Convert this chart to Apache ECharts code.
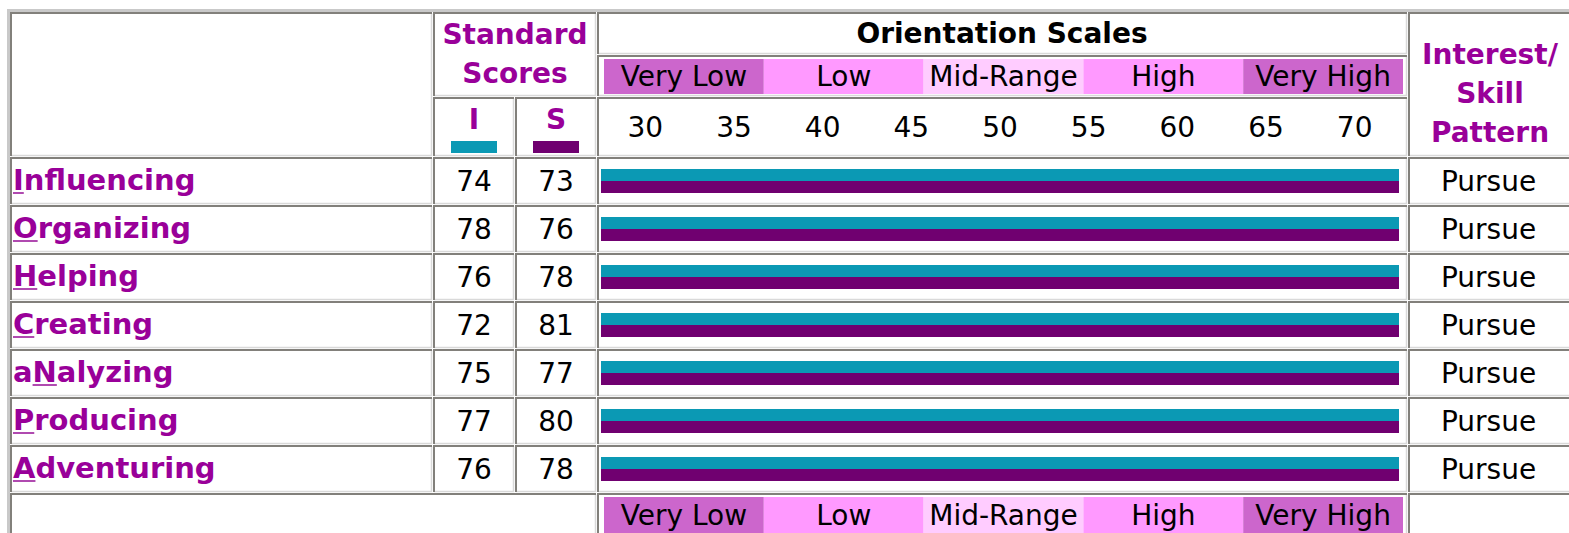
<!DOCTYPE html>
<html><head><meta charset="utf-8">
<script src="https://cdn.jsdelivr.net/npm/echarts@6/dist/echarts.min.js"></script>
<style>html,body{margin:0;padding:0;background:#fff;overflow:hidden}#c{width:1569px;height:533px}</style>
</head><body><div id="c"></div>
<script>
// ---------- data ----------
const scales = ['Influencing','Organizing','Helping','Creating','aNalyzing','Producing','Adventuring'];
const keyLetterIndex = [0,0,0,0,1,0,0];
const interestScores = [74,78,76,72,75,77,76];
const skillScores = [73,76,78,81,77,80,78];
const patterns = ['Pursue','Pursue','Pursue','Pursue','Pursue','Pursue','Pursue'];
const bandNames = ['Very Low','Low','Mid-Range','High','Very High'];
const tickLabels = ['30','35','40','45','50','55','60','65','70'];
const scoreColumns = ['I','S'];
const scaleMin = 27, scaleMax = 72;

// ---------- styles ----------
const FONT = 'Verdana, "DejaVu Sans", sans-serif';
const PURPLE = '#990099';
const TEAL = '#0b99b4';
const PLUM = '#700070';
const bandColors = ['#cc66cc','#ff99ff','#ffccff','#ff99ff','#cc66cc'];
const FS = 28;
const LFS = 29;

const measureCtx = document.createElement('canvas').getContext('2d');
function textWidth(t, weight, size){ measureCtx.font = weight + ' ' + size + 'px ' + FONT; return measureCtx.measureText(t).width; }

// ---------- table frame (layout) ----------
const cells = [
  [10,12,433,157],[433,12,597,97],[597,12,1408,55],[597,55,1408,97],[1408,12,1600,157],
  [433,97,515,157],[515,97,597,157],[597,97,1408,157]
];
const colX = [10,433,515,597,1408,1600];
for (let r = 0; r < scales.length; r++) {
  const y0 = 157 + 48*r;
  for (let c = 0; c < colX.length-1; c++) cells.push([colX[c], y0, colX[c+1], y0+48]);
}
cells.push([10,493,597,560],[597,493,1408,560],[1408,493,1600,560]);

const graphics = [];
graphics.push({type:'polyline', silent:true, shape:{points:[[8.5,560],[8.5,10.5],[1600,10.5]]}, style:{stroke:'#c9c9c9', lineWidth:3, fill:null}});
cells.forEach(([x0,y0,x1,y1]) => {
  graphics.push({type:'polyline', silent:true, shape:{points:[[x1-1.5,y0+1],[x1-1.5,y1-1.5],[x0+1,y1-1.5]]}, style:{stroke:'#d9d9d9', lineWidth:1.5, fill:null}});
  graphics.push({type:'polyline', silent:true, shape:{points:[[x0+1,y1-1],[x0+1,y0+1],[x1-1,y0+1]]}, style:{stroke:'#82807b', lineWidth:2, fill:null}});
});
function htext(t, x, y, color){
  return {type:'text', silent:true, x:x, y:y, style:{text:t, fill:color, fontSize:FS, fontWeight:'bold', fontFamily:FONT, align:'center', verticalAlign:'middle'}};
}
graphics.push(htext('Standard', 515, 34, PURPLE));
graphics.push(htext('Scores', 515, 73, PURPLE));
graphics.push(htext('Orientation Scales', 1002, 33, '#000'));
graphics.push(htext('Interest/', 1490, 54, PURPLE));
graphics.push(htext('Skill', 1490, 93, PURPLE));
graphics.push(htext('Pattern', 1490, 132, PURPLE));
graphics.push({type:'rect', silent:true, shape:{x:451, y:141, width:46, height:12}, style:{fill:TEAL}});
graphics.push({type:'rect', silent:true, shape:{x:533, y:141, width:46, height:12}, style:{fill:PLUM}});

// ---------- chart ----------
const chart = echarts.init(document.getElementById('c'), null, {renderer:'svg'});
const rowGrid = {top:157, height:336};
const hiddenCat = (gi, data) => ({type:'category', gridIndex:gi, data:data, show:false});
const rowAxis = gi => ({type:'category', gridIndex:gi, data:scales, inverse:true, show:false});

function textRenderer(getText, align, color, weight){
  return function(params, api){
    const p = api.coord([api.value(0), api.value(1)]);
    return {type:'text', x:p[0], y:p[1], style:{text:getText(params.dataIndex, api), fill:color, fontSize:FS, fontWeight:weight, fontFamily:FONT, align:align, verticalAlign:'middle'}};
  };
}

const option = {
  animation:false,
  backgroundColor:'#fff',
  textStyle:{fontFamily:FONT},
  graphic: graphics,
  grid:[
    Object.assign({left:601, width:798}, rowGrid),
    Object.assign({left:433, width:164}, rowGrid),
    Object.assign({left:10, width:423}, rowGrid),
    Object.assign({left:1408, width:162}, rowGrid),
    {left:604, width:799, top:59, height:35},
    {left:604, width:799, top:497, height:36}
  ],
  xAxis:[
    {type:'value', gridIndex:0, min:scaleMin, max:scaleMax, show:false, splitLine:{show:false}},
    {type:'category', gridIndex:0, data:tickLabels, position:'top',
     axisLine:{show:false}, axisTick:{show:false},
     axisLabel:{fontSize:FS, color:'#000', margin:16, fontFamily:FONT}},
    {type:'category', gridIndex:1, data:scoreColumns, position:'top',
     axisLine:{show:false}, axisTick:{show:false},
     axisLabel:{fontSize:FS, fontWeight:'bold', color:PURPLE, margin:24, fontFamily:FONT}},
    hiddenCat(2, ['']),
    hiddenCat(3, ['']),
    hiddenCat(4, bandNames),
    hiddenCat(5, bandNames)
  ],
  yAxis:[
    rowAxis(0), rowAxis(1), rowAxis(2), rowAxis(3),
    {type:'value', gridIndex:4, min:0, max:1, show:false},
    {type:'value', gridIndex:5, min:0, max:1, show:false}
  ],
  series:[
    {name:'I', type:'bar', xAxisIndex:0, yAxisIndex:0, data:interestScores, barWidth:12, barGap:'0%', itemStyle:{color:TEAL}, clip:true, silent:true},
    {name:'S', type:'bar', xAxisIndex:0, yAxisIndex:0, data:skillScores, barWidth:12, barGap:'0%', itemStyle:{color:PLUM}, clip:true, silent:true},
    {type:'custom', xAxisIndex:2, yAxisIndex:1, silent:true,
     data: scales.flatMap((s,i) => [[0,i,interestScores[i]],[1,i,skillScores[i]]]),
     renderItem: textRenderer((i, api) => String(api.value(2)), 'center', '#000', 'normal')},
    {type:'custom', xAxisIndex:3, yAxisIndex:2, silent:true,
     data: scales.map((s,i) => [0,i]),
     renderItem: function(params, api){
       const i = params.dataIndex;
       const p = api.coord([0, i]);
       const x = params.coordSys.x + 3;
       const label = scales[i];
       const k = keyLetterIndex[i];
       const off = textWidth(label.slice(0,k), 'bold', LFS);
       const w = textWidth(label.charAt(k), 'bold', LFS);
       return {type:'group', children:[
         {type:'text', x:x, y:p[1]-1, style:{text:label, fill:PURPLE, fontSize:LFS, fontWeight:'bold', fontFamily:FONT, align:'left', verticalAlign:'middle'}},
         {type:'rect', shape:{x:x+off, y:p[1]+11, width:w, height:2}, style:{fill:'#b04ab0'}}
       ]};
     }},
    {type:'custom', xAxisIndex:4, yAxisIndex:3, silent:true,
     data: patterns.map((p,i) => [0,i]),
     renderItem: textRenderer(i => patterns[i], 'center', '#000', 'normal')},
    {type:'bar', xAxisIndex:5, yAxisIndex:4, silent:true, barWidth:'100%',
     data: bandNames.map((n,i) => ({value:1, itemStyle:{color:bandColors[i]}})),
     label:{show:true, position:'inside', formatter:'{b}', color:'#000', fontSize:FS, fontFamily:FONT}},
    {type:'bar', xAxisIndex:6, yAxisIndex:5, silent:true, barWidth:'100%',
     data: bandNames.map((n,i) => ({value:1, itemStyle:{color:bandColors[i]}})),
     label:{show:true, position:'inside', formatter:'{b}', color:'#000', fontSize:FS, fontFamily:FONT}}
  ]
};
chart.setOption(option);
</script>
</body></html>
